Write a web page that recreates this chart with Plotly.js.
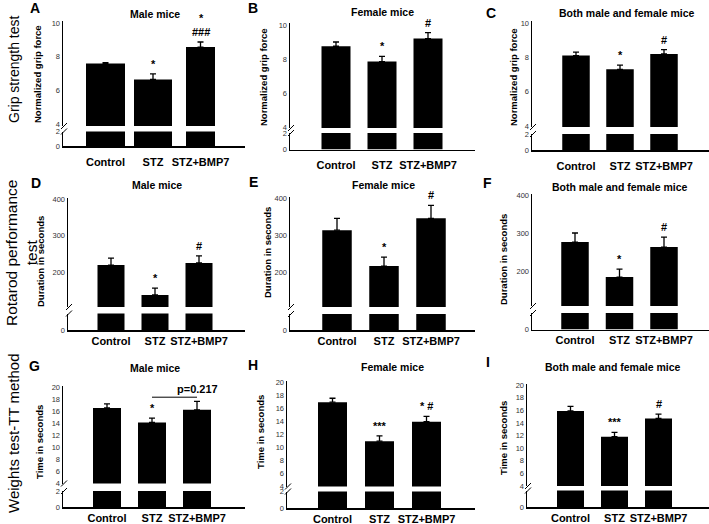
<!DOCTYPE html>
<html>
<head>
<meta charset="utf-8">
<script src="https://cdn.plot.ly/plotly-3.0.1.min.js"></script>
<style>
  html, body { margin: 0; padding: 0; background: #fff; }
  #chart { width: 709px; height: 524px; }
</style>
</head>
<body>
<div id="chart"></div>
<script>
// groups on every x axis
const groups = ['Control', 'STZ', 'STZ+BMP7'];

// grip strength (normalized grip force), mean and SEM
const gripMale = [7.6, 6.65, 8.57];
const gripMaleErr = [0.05, 0.33, 0.3];
const gripFemale = [8.75, 7.85, 9.2];
const gripFemaleErr = [0.25, 0.3, 0.35];
const gripBoth = [8.1, 7.3, 8.2];
const gripBothErr = [0.2, 0.25, 0.25];

// rotarod (duration in seconds)
const rotMale = [219, 137, 225];
const rotMaleErr = [19, 19, 19];
const rotFemale = [313, 216, 345];
const rotFemaleErr = [32, 24, 35];
const rotBoth = [276, 184, 263];
const rotBothErr = [24, 21, 26];

// weights test TT (time in seconds)
const ttMale = [16.5, 14.1, 16.2];
const ttMaleErr = [0.7, 0.7, 1.4];
const ttFemale = [16.9, 10.9, 13.9];
const ttFemaleErr = [0.6, 0.8, 0.8];
const ttBoth = [15.9, 11.8, 14.7];
const ttBothErr = [0.7, 0.7, 0.7];

// significance marks above bars
const sigGripMale = ['', '*', '*<br>###'];
const sigGripFemale = ['', '*', '#'];
const sigGripBoth = ['', '*', '#'];
const sigRotMale = ['', '*', '#'];
const sigRotFemale = ['', '*', '#'];
const sigRotBoth = ['', '*', '#'];
const sigTtMale = ['', '*', ''];
const sigTtFemale = ['', '***', '* #'];
const sigTtBoth = ['', '***', '#'];

// tick labels
const gripTicks = [4, 6, 8, 10];
const rotTicks = [200, 300, 400];
const ttTicks = [4, 6, 8, 10, 12, 14, 16, 18, 20];

const rowLabels = ['Grip strength test', 'Rotarod performance<br>test', 'Weights test-TT method'];
const pValueG = 'p=0.217';

const W = 709, H = 524;
const FONT = 'Liberation Sans, Arial, sans-serif';
const px = x => x / W;
const py = y => 1 - y / H;

// panel geometry in pixels (axis position, domains, tick anchors)
const panels = [
  {letter: 'A', title: 'Male mice', vals: gripMale, errs: gripMaleErr, sig: sigGripMale, ytitle: 'Normalized grip force',
   x0: 63, x1: 245, c0: 105.5, s: 47.5, bw: [39, 38, 29], up: [21, 126], lo: [131.5, 146], t1: [10, 23], t2: [4, 124],
   ticks: gripTicks, loMax: 2, loTicks: [0, 2], lab: [35, 8], tit: [155, 14], yt: [38, 74], stand: 5},
  {letter: 'B', title: 'Female mice', vals: gripFemale, errs: gripFemaleErr, sig: sigGripFemale, ytitle: 'Normalized grip force',
   x0: 290, x1: 475, c0: 336, s: 46, bw: [29, 29, 29], up: [23, 128], lo: [133, 149.5], t1: [10, 25], t2: [4, 127],
   ticks: gripTicks, loMax: 2, loTicks: [0, 2], lab: [253, 8], tit: [382, 12], yt: [263, 77], stand: 5},
  {letter: 'C', title: 'Both male and female mice', vals: gripBoth, errs: gripBothErr, sig: sigGripBoth, ytitle: 'Normalized grip force',
   x0: 532, x1: 709, c0: 576, s: 44, bw: [27.5, 27.5, 27.5], up: [21, 127], lo: [134, 150], t1: [10, 23], t2: [4, 126],
   ticks: gripTicks, loMax: 2, loTicks: [0, 2], lab: [491, 13], tit: [627, 13], yt: [513, 77], stand: 5},
  {letter: 'D', title: 'Male mice', vals: rotMale, errs: rotMaleErr, sig: sigRotMale, ytitle: 'Duration in seconds',
   x0: 68, x1: 245, c0: 111, s: 44, bw: [27, 27, 27], up: [198, 307], lo: [313.5, 330], t1: [400, 199], t2: [200, 272],
   ticks: rotTicks, loMax: 50, loTicks: [0], lab: [36, 183], tit: [157, 185], yt: [40, 262], stand: 0},
  {letter: 'E', title: 'Female mice', vals: rotFemale, errs: rotFemaleErr, sig: sigRotFemale, ytitle: 'Duration in seconds',
   x0: 290, x1: 475, c0: 337, s: 47, bw: [29.5, 29.5, 29.5], up: [197, 307], lo: [314, 330], t1: [400, 198], t2: [200, 272],
   ticks: rotTicks, loMax: 50, loTicks: [0], lab: [253, 182], tit: [383, 185], yt: [267, 253], stand: 0},
  {letter: 'F', title: 'Both male and female mice', vals: rotBoth, errs: rotBothErr, sig: sigRotBoth, ytitle: 'Duration in seconds',
   x0: 532, x1: 709, c0: 575, s: 44.5, bw: [27.5, 27.5, 27.5], up: [194, 306], lo: [313, 329.5], t1: [400, 195], t2: [200, 271],
   ticks: rotTicks, loMax: 50, loTicks: [0], lab: [487, 183], tit: [620, 187], yt: [503, 260], stand: 0},
  {letter: 'G', title: 'Male mice', vals: ttMale, errs: ttMaleErr, sig: sigTtMale, ytitle: 'Time in seconds',
   x0: 63, x1: 245, c0: 107, s: 45, bw: [28, 28, 28], up: [386, 483.5], lo: [491, 507], t1: [20, 387], t2: [4, 483],
   ticks: ttTicks, loMax: 2, loTicks: [0, 2], lab: [34, 366], tit: [155, 368], yt: [39, 442], stand: 0},
  {letter: 'H', title: 'Female mice', vals: ttFemale, errs: ttFemaleErr, sig: sigTtFemale, ytitle: 'Time in seconds',
   x0: 287, x1: 475, c0: 332.5, s: 47, bw: [29, 29, 29], up: [381, 486.5], lo: [491.5, 508], t1: [20, 382], t2: [4, 486],
   ticks: ttTicks, loMax: 2, loTicks: [0, 2], lab: [253, 365], tit: [392, 367], yt: [260, 432], stand: 0},
  {letter: 'I', title: 'Both male and female mice', vals: ttBoth, errs: ttBothErr, sig: sigTtBoth, ytitle: 'Time in seconds',
   x0: 527, x1: 709, c0: 570.5, s: 44, bw: [27, 27, 27], up: [384, 486], lo: [490.5, 507], t1: [20, 385], t2: [4, 486],
   ticks: ttTicks, loMax: 2, loTicks: [0], lab: [488, 362], tit: [613, 367], yt: [503, 438], stand: 0}
];

const ref = (p, n) => n === 1 ? p : p + n;
const key = (p, n) => n === 1 ? p + 'axis' : p + 'axis' + n;

let traces = [];
let layout = {
  width: W, height: H,
  margin: {l: 0, r: 0, t: 0, b: 0},
  paper_bgcolor: '#fff', plot_bgcolor: 'rgba(0,0,0,0)',
  showlegend: false,
  font: {family: FONT, color: '#000'},
  annotations: [],
  shapes: []
};

panels.forEach((p, i) => {
  let xn = i + 1, yu = 2 * i + 1, yl = 2 * i + 2;
  let xr = ref('x', xn), yur = ref('y', yu), ylr = ref('y', yl);

  // upper axis range from the two tick anchors
  let ppu = (p.t2[1] - p.t1[1]) / (p.t1[0] - p.t2[0]);
  let upMax = p.t1[0] + (p.t1[1] - p.up[0]) / ppu;
  let upMin = p.t2[0] - (p.up[1] - p.t2[1]) / ppu;

  layout[key('x', xn)] = {
    domain: [px(p.x0), px(p.x1)], anchor: ylr, type: 'category',
    range: [(p.x0 - p.c0) / p.s, (p.x1 - p.c0) / p.s],
    showline: true, linecolor: '#000', linewidth: 1.5, ticks: '', showgrid: false, zeroline: false,
    tickfont: {family: FONT, size: 11, weight: 'bold', color: '#000'},
    ticklabelstandoff: p.stand, fixedrange: true
  };
  let yCommon = {
    anchor: xr, showline: true, linecolor: '#000', linewidth: 1.5, ticks: '', showgrid: false, zeroline: false,
    tickfont: {family: FONT, size: 7.5, color: '#333'}, fixedrange: true
  };
  layout[key('y', yu)] = Object.assign({}, yCommon, {
    domain: [py(p.up[1]), py(p.up[0])], range: [upMin, upMax], tickvals: p.ticks
  });
  layout[key('y', yl)] = Object.assign({}, yCommon, {
    domain: [py(p.lo[1]), py(p.lo[0])], range: [0, p.loMax], tickvals: p.loTicks
  });

  let widths = p.bw.map(w => w / p.s);
  traces.push({
    type: 'bar', x: groups, y: p.vals, xaxis: xr, yaxis: yur, width: widths,
    marker: {color: '#000', line: {width: 0}}, hoverinfo: 'skip',
    error_y: {type: 'data', symmetric: false, array: p.errs, arrayminus: p.errs.map(() => 0),
              color: '#000', thickness: 1.3, width: 3}
  });
  traces.push({
    type: 'bar', x: groups, y: p.vals, xaxis: xr, yaxis: ylr, width: widths,
    marker: {color: '#000', line: {width: 0}}, hoverinfo: 'skip'
  });

  // significance marks
  p.sig.forEach((s, j) => {
    if (!s) return;
    layout.annotations.push({
      x: groups[j], y: p.vals[j] + p.errs[j], xref: xr, yref: yur,
      text: s, showarrow: false, yanchor: 'bottom', yshift: 2,
      font: {family: FONT, size: 11, weight: 'bold', color: '#000'}
    });
  });

  // panel letter, title, y title
  layout.annotations.push({
    x: px(p.lab[0]), y: py(p.lab[1]), xref: 'paper', yref: 'paper', text: p.letter, showarrow: false,
    xanchor: 'center', yanchor: 'middle', font: {family: FONT, size: 14, weight: 'bold', color: '#000'}
  });
  layout.annotations.push({
    x: px(p.tit[0]), y: py(p.tit[1]), xref: 'paper', yref: 'paper', text: p.title, showarrow: false,
    xanchor: 'center', yanchor: 'middle', font: {family: FONT, size: 10.5, weight: 'bold', color: '#000'}
  });
  layout.annotations.push({
    x: px(p.yt[0]), y: py(p.yt[1]), xref: 'paper', yref: 'paper', text: p.ytitle, showarrow: false,
    textangle: -90, xanchor: 'center', yanchor: 'middle', font: {family: FONT, size: 9.5, weight: 'bold', color: '#000'}
  });

  // axis break slashes
  [p.up[1], p.lo[0]].forEach(yb => {
    layout.shapes.push({
      type: 'line', xref: 'paper', yref: 'paper',
      x0: px(p.x0 - 2), y0: py(yb + 3), x1: px(p.x0 + 4), y1: py(yb - 3),
      line: {color: '#000', width: 1}
    });
  });
});

// p-value bracket in panel G
layout.shapes.push({
  type: 'line', xref: 'x7', yref: 'y13', x0: 'STZ', x1: 'STZ+BMP7', y0: 18.3, y1: 18.3,
  line: {color: '#000', width: 1}
});
layout.annotations.push({
  x: 'STZ+BMP7', y: 18.3, xref: 'x7', yref: 'y13', text: pValueG, showarrow: false,
  yanchor: 'bottom', yshift: 0, font: {family: FONT, size: 11, weight: 'bold', color: '#000'}
});

// row labels
const rowPos = [[14, 70], [21, 253], [13, 433]];
const rowSize = [14, 15.5, 15];
rowLabels.forEach((t, i) => {
  layout.annotations.push({
    x: px(rowPos[i][0]), y: py(rowPos[i][1]), xref: 'paper', yref: 'paper', text: t, showarrow: false,
    textangle: -90, xanchor: 'center', yanchor: 'middle', font: {family: FONT, size: rowSize[i], color: '#000'}
  });
});

Plotly.newPlot('chart', traces, layout, {displayModeBar: false, staticPlot: true});
</script>
</body>
</html>
